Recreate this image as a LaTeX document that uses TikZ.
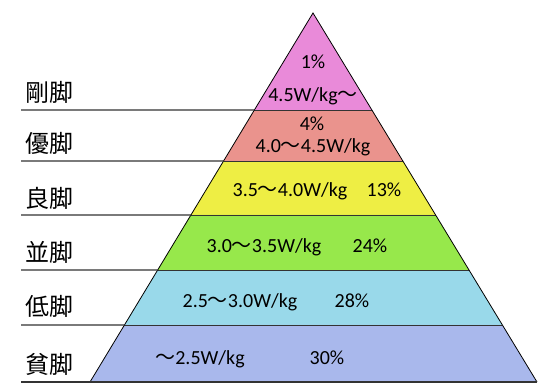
\documentclass[tikz,border=0pt]{standalone}
\usepackage{fontspec}
\setmainfont{Carlito}
\newfontfamily\jpfont{Noto Sans CJK JP}
\usetikzlibrary{calc}
\newcommand\wave{{\jpfont ～}}
\definecolor{cPink}{HTML}{E98AD9}
\definecolor{cSalmon}{HTML}{EA938D}
\definecolor{cYellow}{HTML}{EEEE44}
\definecolor{cGreen}{HTML}{97E84B}
\definecolor{cBlue}{HTML}{99D9EA}
\definecolor{cLav}{HTML}{A9B8EC}
\begin{document}
\begin{tikzpicture}[x=1pt,y=-1pt,
  edge/.style={draw=black, line width=0.8pt},
  sep/.style={draw=black!80, line width=0.9pt},
  rule/.style={draw=black!80, line width=1.3pt},
  lbl/.style={font=\jpfont\fontsize{24}{24}\selectfont, inner sep=0pt, anchor=west},
  val/.style={font=\fontsize{20}{20}\selectfont, inner sep=0pt, anchor=base}]
\useasboundingbox (0,0) rectangle (542,391);
\coordinate (A) at (313,13);
\coordinate (BL) at (90,382);
\coordinate (BR) at (537,382);
\foreach \n/\t in {1/0.2629,2/0.4011,3/0.5474,4/0.6965,5/0.8455,6/1}{
  \coordinate (L\n) at ($(A)!\t!(BL)$);
  \coordinate (R\n) at ($(A)!\t!(BR)$);
}
\fill[cPink] (A) -- (L1) -- (R1) -- cycle;
\fill[cSalmon] (L1) -- (L2) -- (R2) -- (R1) -- cycle;
\fill[cYellow] (L2) -- (L3) -- (R3) -- (R2) -- cycle;
\fill[cGreen] (L3) -- (L4) -- (R4) -- (R3) -- cycle;
\fill[cBlue] (L4) -- (L5) -- (R5) -- (R4) -- cycle;
\fill[cLav] (L5) -- (L6) -- (R6) -- (R5) -- cycle;
\foreach \n in {1,...,5}{ \draw[sep] (L\n) -- (R\n); }
\draw[edge] (BL) -- (A) -- (BR);
% left rules
\foreach \n/\y in {1/110,2/161,3/215,4/270,5/325,6/382}{
  \coordinate (S\n) at (21,\y);
}
\foreach \n in {1,...,5}{ \draw[rule] (S\n) -- (L\n); }
\draw[rule] (S6) -- (BR);
% left labels
\node[lbl] (k1) at (25,92) {剛脚};
\node[lbl] (k2) at (25,143) {優脚};
\node[lbl] (k3) at (25,198) {良脚};
\node[lbl] (k4) at (25,252) {並脚};
\node[lbl] (k5) at (25,306) {低脚};
\node[lbl] (k6) at (25,364) {貧脚};
% values
\node[val] (p1) at (313,68) {1\%};
\node[val] (w1) at (313,101) {4.5W/kg\wave};
\node[val] (p2) at (312,130) {4\%};
\node[val] (w2) at (313,152) {4.0\wave 4.5W/kg};
\node[val] (w3) at (290,196) {3.5\wave 4.0W/kg};
\node[val] (p3) at (384,196) {13\%};
\node[val] (w4) at (264,252) {3.0\wave 3.5W/kg};
\node[val] (p4) at (370,252) {24\%};
\node[val] (w5) at (240,307) {2.5\wave 3.0W/kg};
\node[val] (p5) at (352,307) {28\%};
\node[val] (w6) at (200,364) {\wave 2.5W/kg};
\node[val] (p6) at (327,364) {30\%};
\end{tikzpicture}
\end{document}
